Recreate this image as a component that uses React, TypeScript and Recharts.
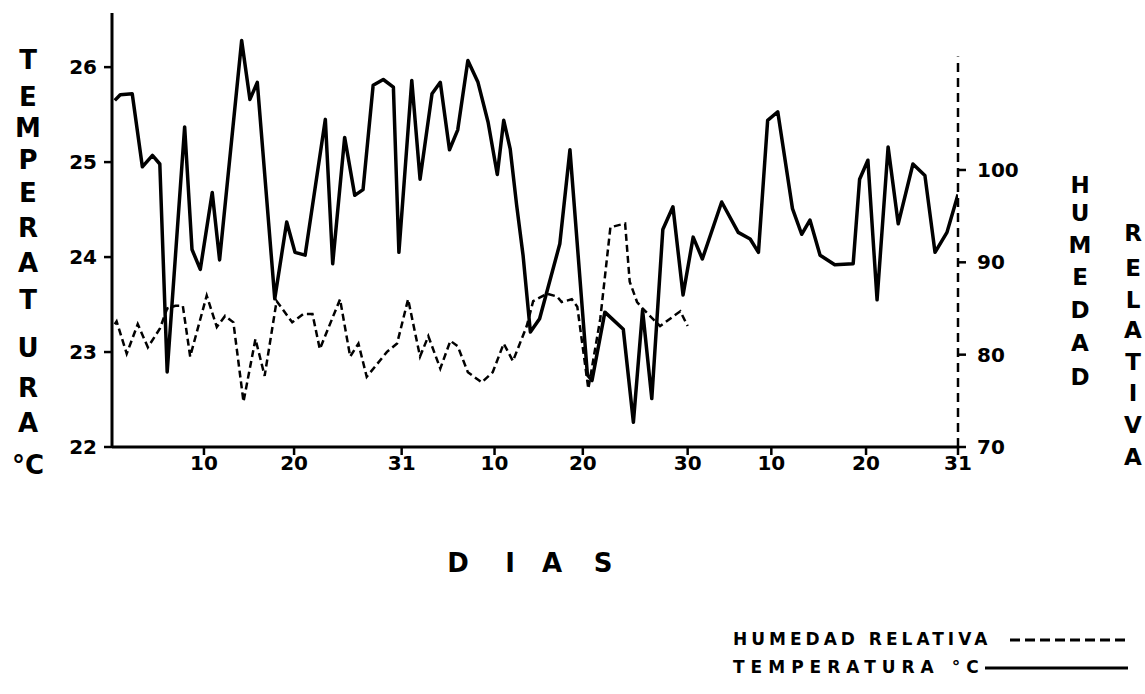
import { LineChart, Line, XAxis, YAxis, ReferenceLine } from 'recharts';

// dias (posicion en el eje, 0-92) y temperatura media diaria en grados C
const dias = [
  0.3, 0.9, 2.2, 3.3, 4.4, 5.2, 6.0, 7.9, 8.7, 9.6, 10.9, 11.7, 14.1, 15.0, 15.8,
  17.7, 19.0, 19.9, 21.0, 23.2, 24.0, 25.3, 26.4, 27.3, 28.4, 29.5, 30.6, 31.2,
  32.6, 33.5, 34.8, 35.7, 36.7, 37.6, 38.7, 39.8, 40.9, 41.9, 42.6, 43.3, 44.0,
  44.7, 45.5, 46.5, 48.7, 49.8, 51.7, 52.2, 53.6, 55.6, 56.7, 57.7, 58.7, 59.9,
  61.0, 62.1, 63.2, 64.2, 66.3, 68.1, 69.4, 70.3, 71.3, 72.4, 74.0, 75.0, 75.9,
  77.0, 78.6, 80.6, 81.3, 82.2, 83.2, 84.4, 85.5, 87.1, 88.4, 89.5, 90.8, 92.0,
];
const temperatura = [
  25.65, 25.71, 25.72, 24.95, 25.07, 24.98, 22.79, 25.37, 24.08, 23.87, 24.68,
  23.97, 26.28, 25.66, 25.84, 23.56, 24.37, 24.05, 24.02, 25.45, 23.93, 25.26,
  24.65, 24.71, 25.81, 25.87, 25.79, 24.05, 25.86, 24.82, 25.72, 25.84, 25.13,
  25.34, 26.07, 25.84, 25.42, 24.87, 25.44, 25.14, 24.55, 24.02, 23.21, 23.35,
  24.14, 25.13, 22.76, 22.7, 23.42, 23.24, 22.26, 23.44, 22.51, 24.29, 24.53,
  23.6, 24.21, 23.98, 24.58, 24.26, 24.19, 24.05, 25.44, 25.53, 24.51, 24.24,
  24.39, 24.02, 23.92, 23.93, 24.82, 25.02, 23.55, 25.16, 24.35, 24.98, 24.86,
  24.05, 24.26, 24.66,
];

// humedad relativa (%), solo los dos primeros meses
const diasHumedad = [
  0.3, 0.5, 1.6, 2.8, 3.9, 5.2, 6.0, 6.9, 7.7, 8.5, 10.3, 11.4, 12.3, 13.2, 14.3,
  15.6, 16.6, 17.9, 19.6, 20.8, 21.8, 22.6, 24.8, 25.9, 26.8, 27.7, 29.9, 31.0,
  32.2, 33.5, 34.4, 35.7, 36.8, 37.6, 38.7, 40.2, 41.4, 42.6, 43.6, 45.1, 45.8,
  47.3, 48.4, 48.9, 50.0, 50.6, 51.8, 53.1, 54.2, 55.8, 56.3, 57.1, 57.7, 59.6,
  61.8, 62.6,
];
const humedad = [
  83.3, 83.6, 80.1, 83.3, 80.8, 82.8, 85.0, 85.3, 85.3, 79.8, 86.4, 83.0, 84.2,
  83.5, 74.9, 81.7, 77.7, 85.8, 83.5, 84.4, 84.4, 80.6, 86.0, 79.8, 81.2, 77.6,
  80.3, 81.2, 86.0, 79.8, 82.0, 78.5, 81.5, 80.9, 78.1, 77.0, 78.1, 81.2, 79.3,
  83.1, 85.8, 86.6, 86.3, 85.7, 86.0, 85.2, 76.3, 83.9, 93.8, 94.2, 87.9, 85.7,
  85.0, 83.1, 84.7, 83.1,
];

const xTicks = [10, 19.8, 31.5, 41.6, 51.2, 62.6, 71.7, 82, 92];
const xTickLabels = ['10', '20', '31', '10', '20', '30', '10', '20', '31'];
const tempTicks = [22, 23, 24, 25, 26];
const humTicks = [70, 80, 90, 100];

const tempData = dias.map((d, i) => ({ d, t: temperatura[i] }));
const humData = diasHumedad.map((d, i) => ({ d, h: humedad[i] }));

const FONT = "'DejaVu Sans', sans-serif";

function Letras({ text, xs, ys, size }: { text: string[]; xs: number[]; ys: number[]; size: number }) {
  return (
    <>
      {text.map((ch, i) => (
        <span
          key={i}
          style={{
            position: 'absolute',
            left: xs[i],
            top: ys[i],
            transform: 'translate(-50%, -50%)',
            fontSize: size,
            fontWeight: 'bold',
            lineHeight: 1,
            whiteSpace: 'nowrap',
          }}
        >
          {ch}
        </span>
      ))}
    </>
  );
}

const col = (n: number, x: number) => Array.from({ length: n }, () => x);

export default function App() {
  const tickStyle = { fill: '#000', fontSize: 20, fontWeight: 'bold', fontFamily: FONT };
  return (
    <div
      style={{
        position: 'absolute',
        left: 0,
        top: 0,
        width: 1145,
        height: 694,
        background: '#fff',
        fontFamily: FONT,
        color: '#000',
        overflow: 'hidden',
      }}
    >
      <LineChart
        width={1145}
        height={694}
        margin={{ top: 13, right: 127, bottom: 217, left: 72 }}
      >
        <XAxis
          dataKey="d"
          type="number"
          domain={[0, 92]}
          ticks={xTicks}
          tickFormatter={(v: number) => xTickLabels[xTicks.indexOf(v)] ?? ''}
          allowDataOverflow
          height={30}
          axisLine={{ stroke: '#000', strokeWidth: 3 }}
          tickLine={{ stroke: '#000', strokeWidth: 2.5 }}
          tickSize={8}
          tickMargin={1}
          tick={tickStyle}
        />
        <YAxis
          yAxisId="left"
          domain={[22, 26.57]}
          ticks={tempTicks}
          allowDataOverflow
          width={40}
          axisLine={{ stroke: '#000', strokeWidth: 3 }}
          tickLine={{ stroke: '#000', strokeWidth: 2.5 }}
          tickSize={8}
          tickMargin={7}
          tick={tickStyle}
        />
        <YAxis
          yAxisId="right"
          orientation="right"
          domain={[70, 117]}
          ticks={humTicks}
          allowDataOverflow
          width={60}
          axisLine={false}
          tickLine={{ stroke: '#000', strokeWidth: 2.5 }}
          tickSize={8}
          tickMargin={11}
          tick={tickStyle}
        />
        <ReferenceLine
          yAxisId="right"
          segment={[{ x: 92, y: 70 }, { x: 92, y: 112.3 }]}
          stroke="#000"
          strokeWidth={2.5}
          strokeDasharray="9 6"
        />
        <Line
          yAxisId="right"
          data={humData}
          dataKey="h"
          type="linear"
          stroke="#000"
          strokeWidth={2.5}
          strokeDasharray="7 4"
          dot={false}
          activeDot={false}
          isAnimationActive={false}
        />
        <Line
          yAxisId="left"
          data={tempData}
          dataKey="t"
          type="linear"
          stroke="#000"
          strokeWidth={3.5}
          strokeLinejoin="round"
          dot={false}
          activeDot={false}
          isAnimationActive={false}
        />
      </LineChart>

      <Letras
        text={['T', 'E', 'M', 'P', 'E', 'R', 'A', 'T', 'U', 'R', 'A', '°C']}
        xs={col(12, 28)}
        ys={[60, 97, 128, 160, 193, 228, 263, 300, 348, 388, 423, 465]}
        size={26}
      />
      <Letras
        text={['H', 'U', 'M', 'E', 'D', 'A', 'D']}
        xs={col(7, 1080)}
        ys={[185, 213, 245, 277, 310, 343, 377]}
        size={23}
      />
      <Letras
        text={['R', 'E', 'L', 'A', 'T', 'I', 'V', 'A']}
        xs={col(8, 1133)}
        ys={[233, 268, 300, 330, 362, 393, 425, 457]}
        size={23}
      />
      <Letras text={['D', 'I', 'A', 'S']} xs={[458, 510, 552, 603]} ys={col(4, 563)} size={26} />

      {/* leyenda */}
      <div style={{ position: 'absolute', left: 733, top: 631, fontSize: 17, fontWeight: 'bold', letterSpacing: 4, lineHeight: 1, whiteSpace: 'nowrap' }}>
        HUMEDAD RELATIVA
      </div>
      <svg style={{ position: 'absolute', left: 1008, top: 636 }} width={122} height={8}>
        <line x1={2} y1={4} x2={120} y2={4} stroke="#000" strokeWidth={3} strokeDasharray="10 5" />
      </svg>
      <div style={{ position: 'absolute', left: 733, top: 659, fontSize: 17, fontWeight: 'bold', letterSpacing: 6, lineHeight: 1, whiteSpace: 'nowrap' }}>
        TEMPERATURA °C
      </div>
      <svg style={{ position: 'absolute', left: 985, top: 664 }} width={145} height={8}>
        <line x1={0} y1={4} x2={143} y2={4} stroke="#000" strokeWidth={3} />
      </svg>
    </div>
  );
}
